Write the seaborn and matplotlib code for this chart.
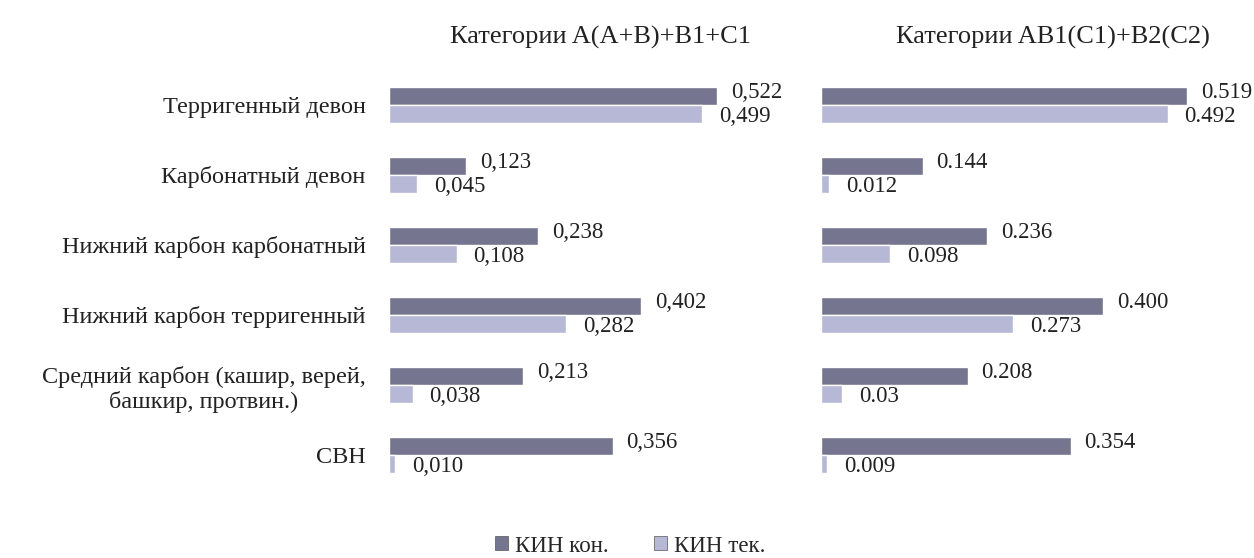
import matplotlib
matplotlib.use("Agg")
import matplotlib.pyplot as plt
import seaborn as sns
import pandas as pd
from matplotlib.patches import Patch

categories = [
    "Терригенный девон",
    "Карбонатный девон",
    "Нижний карбон карбонатный",
    "Нижний карбон терригенный",
    "Средний карбон (кашир, верей,\nбашкир, протвин.)",
    "СВН",
]
series_names = ["КИН кон.", "КИН тек."]

left_kon = [0.522, 0.123, 0.238, 0.402, 0.213, 0.356]
left_tek = [0.499, 0.045, 0.108, 0.282, 0.038, 0.010]
right_kon = [0.519, 0.144, 0.236, 0.400, 0.208, 0.354]
right_tek = [0.492, 0.012, 0.098, 0.273, 0.030, 0.009]

left_kon_labels = ["0,522", "0,123", "0,238", "0,402", "0,213", "0,356"]
left_tek_labels = ["0,499", "0,045", "0,108", "0,282", "0,038", "0,010"]
right_kon_labels = ["0.519", "0.144", "0.236", "0.400", "0.208", "0.354"]
right_tek_labels = ["0.492", "0.012", "0.098", "0.273", "0.03", "0.009"]

titles = ["Категории A(A+B)+B1+C1", "Категории AB1(C1)+B2(C2)"]

sns.set_theme(style="white")
plt.rcParams["font.family"] = ["Liberation Serif", "DejaVu Serif"]

colors = {"КИН кон.": "#75758f", "КИН тек.": "#b7b7d6"}
FS_CAT = 17.5
FS_VAL = 16.5
FS_TITLE = 19
TXT = "#222222"

def make_df(kon, tek):
    return pd.DataFrame({
        "cat": categories * 2,
        "val": list(kon) + list(tek),
        "series": [series_names[0]] * len(categories) + [series_names[1]] * len(categories),
    })

fig = plt.figure(figsize=(12.54, 5.58), dpi=100)
W, H = 1254, 558
top_px, bot_px = 70, 490
axL = fig.add_axes([389 / W, 1 - bot_px / H, 411 / W, (bot_px - top_px) / H])
axR = fig.add_axes([821 / W, 1 - bot_px / H, 423 / W, (bot_px - top_px) / H])

panels = [
    (axL, left_kon, left_tek, left_kon_labels, left_tek_labels, 411 / 628, titles[0], 600),
    (axR, right_kon, right_tek, right_kon_labels, right_tek_labels, 423 / 705, titles[1], 1053),
]

for ax, kon, tek, klab, tlab, xmax, title, tx in panels:
    df = make_df(kon, tek)
    sns.barplot(data=df, y="cat", x="val", hue="series", hue_order=series_names,
                palette=colors, orient="h", width=0.52, gap=0, ax=ax,
                legend=False, errorbar=None, saturation=1)
    ax.set_xlim(0, xmax)
    ax.set_ylim(5.5, -0.5)
    for ann in ax.bar_label(ax.containers[0], labels=klab, padding=10, fontsize=FS_VAL, color=TXT):
        ann.xyann = (10, 2.5)
    for ann in ax.bar_label(ax.containers[1], labels=tlab, padding=12, fontsize=FS_VAL, color=TXT):
        ann.xyann = (12, -1.5)
    ax.set_xlabel("")
    ax.set_ylabel("")
    ax.set_xticks([])
    for s in ax.spines.values():
        s.set_visible(False)
    fig.text(tx / W, 1 - 37 / H, title, ha="center", va="center", fontsize=FS_TITLE, color=TXT)

axL.tick_params(axis="y", length=0, pad=17, labelsize=FS_CAT, labelcolor=TXT)
for lab in axL.get_yticklabels():
    lab.set_horizontalalignment("right")
    lab.set_multialignment("center")
axR.set_yticks([])

handles = [Patch(facecolor=colors[n], edgecolor="#555555", linewidth=0.5) for n in series_names]
fig.legend(handles, series_names, loc="center", bbox_to_anchor=(630 / W, 1 - 546 / H),
           ncol=2, frameon=False, fontsize=FS_VAL, handlelength=0.55, handleheight=0.55,
           handletextpad=0.3, columnspacing=2.0)

fig.savefig("out.png", dpi=100)
